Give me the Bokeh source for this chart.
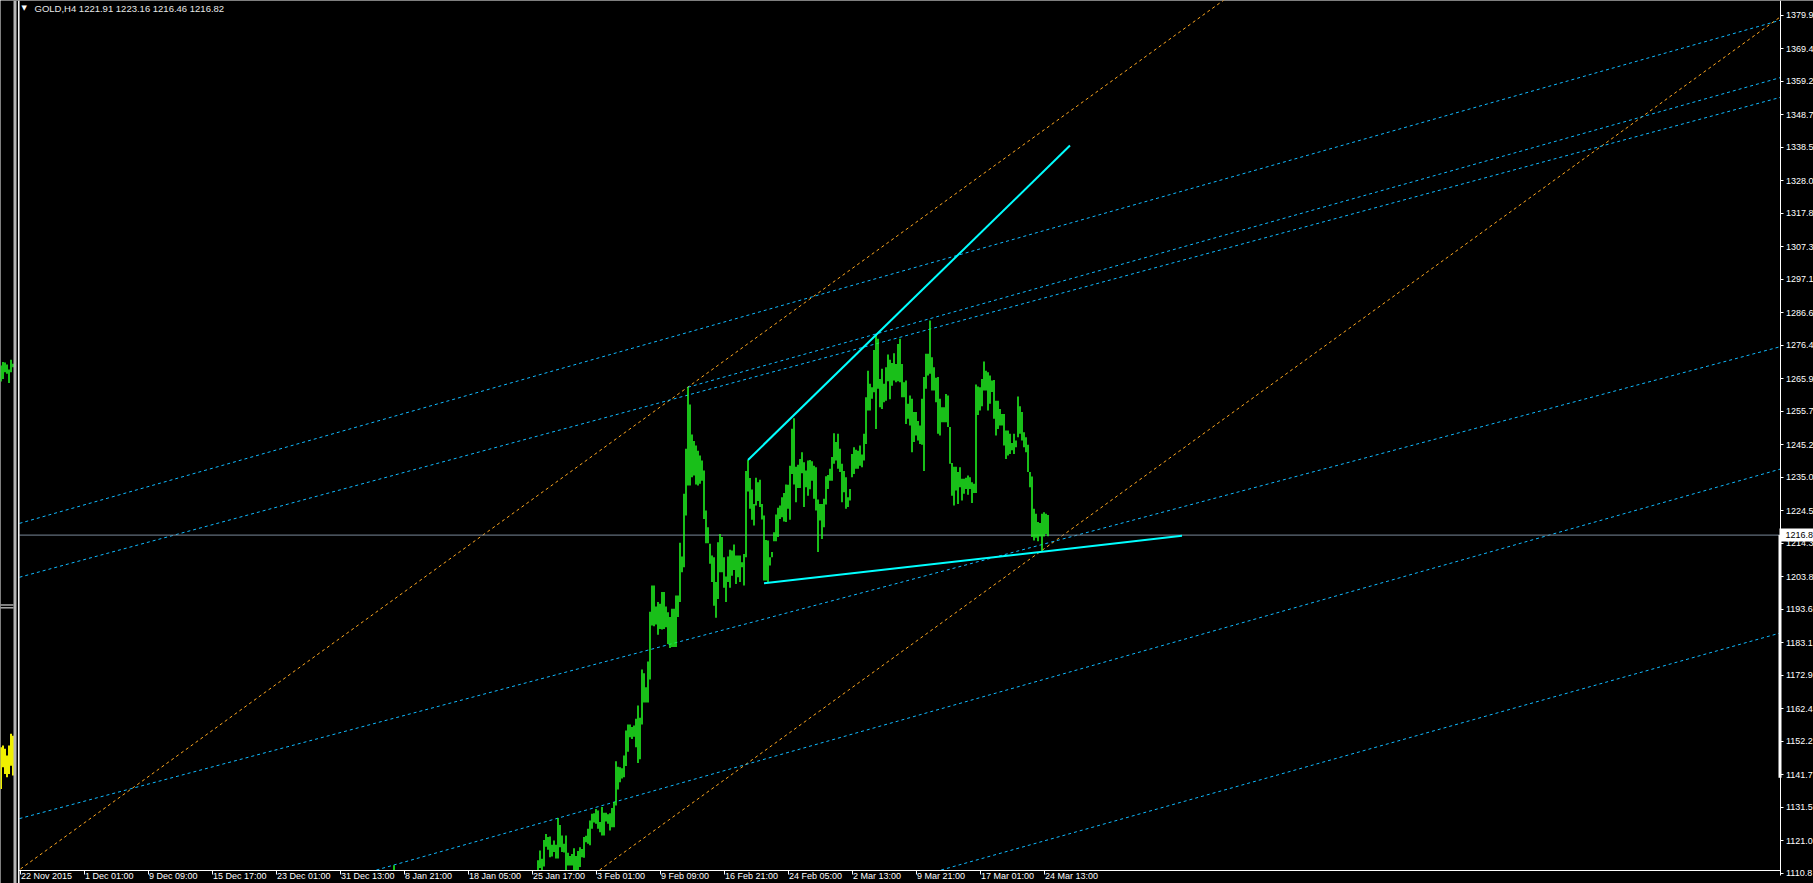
from bokeh.plotting import figure
from bokeh.models import (Range1d, FixedTicker, Label, Span, ColumnDataSource,
                          PrintfTickFormatter, LinearAxis)
from bokeh.embed import file_html
from bokeh.resources import INLINE
from bokeh.core.properties import value

FONT = "Liberation Sans"

symbol = "GOLD,H4"
last_ohlc = [1221.91, 1223.16, 1216.46, 1216.82]

price_ticks = [1110.8, 1121.0, 1131.5, 1141.7, 1152.2, 1162.4, 1172.9, 1183.1, 1193.6,
               1203.8, 1214.3, 1224.5, 1235.0, 1245.2, 1255.7, 1265.9, 1276.4, 1286.6,
               1297.1, 1307.3, 1317.8, 1328.0, 1338.5, 1348.7, 1359.2, 1369.4, 1379.9]

time_tick_bars = [0, 32, 64, 96, 128, 160, 192, 224, 256, 288, 320, 352, 384, 416, 448, 480, 512]
time_tick_labels = ["22 Nov 2015", "1 Dec 01:00", "9 Dec 09:00", "15 Dec 17:00", "23 Dec 01:00",
                    "31 Dec 13:00", "8 Jan 21:00", "18 Jan 05:00", "25 Jan 17:00", "3 Feb 01:00",
                    "9 Feb 09:00", "16 Feb 21:00", "24 Feb 05:00", "2 Mar 13:00", "9 Mar 21:00",
                    "17 Mar 01:00", "24 Mar 13:00"]

# H4 bars (high / low), first index = bar_first
bar_first = 258
bar_high = [
    1111.8, 1114.8, 1117.9, 1115.3, 1121.2, 1123.1, 1122.1, 1122.3, 1119.7, 1121.0,
    1119.7, 1128.1, 1125.9, 1122.6, 1120.0, 1122.6, 1117.2, 1116.2, 1116.8, 1118.6,
    1116.2, 1117.7, 1118.9, 1118.4, 1122.1, 1122.5, 1124.7, 1127.3, 1129.4, 1129.6,
    1130.9, 1130.4, 1126.8, 1131.5, 1129.7, 1129.7, 1129.3, 1129.6, 1131.2, 1133.1,
    1145.9, 1144.2, 1144.0, 1143.7, 1147.7, 1155.5, 1157.4, 1157.4, 1156.6, 1157.1,
    1159.2, 1163.4, 1159.5, 1174.7, 1173.5, 1169.1, 1177.2, 1192.8, 1201.0, 1201.0,
    1194.4, 1195.8, 1195.3, 1199.0, 1199.0, 1194.4, 1192.6, 1191.1, 1193.7, 1193.7,
    1197.9, 1197.9, 1214.4, 1210.1, 1229.8, 1243.9, 1263.2, 1257.8, 1248.4, 1246.3,
    1244.9, 1243.3, 1241.8, 1240.2, 1237.1, 1224.5, 1219.3, 1214.1, 1210.4, 1209.9,
    1202.1, 1214.6, 1217.2, 1216.2, 1209.9, 1203.8, 1210.1, 1212.2, 1212.0, 1213.9,
    1210.4, 1210.4, 1210.4, 1208.3, 1210.9, 1236.9, 1240.4, 1234.7, 1231.1, 1226.6,
    1234.8, 1233.4, 1234.2, 1226.6, 1223.0, 1215.3, 1215.1, 1209.9, 1211.5, 1217.7,
    1223.3, 1225.4, 1226.1, 1228.7, 1230.0, 1232.7, 1232.6, 1238.6, 1250.2, 1253.5,
    1238.3, 1238.9, 1240.7, 1242.8, 1239.7, 1237.1, 1240.2, 1240.4, 1240.0, 1238.6,
    1238.1, 1228.0, 1226.6, 1226.6, 1228.2, 1235.3, 1235.7, 1237.6, 1241.3, 1248.8,
    1246.0, 1248.6, 1243.9, 1239.2, 1236.9, 1235.0, 1228.7, 1231.3, 1242.3, 1244.4,
    1243.6, 1243.3, 1244.9, 1242.1, 1248.6, 1260.1, 1268.4, 1264.3, 1263.2, 1274.9,
    1279.9, 1278.4, 1265.8, 1269.0, 1264.3, 1269.5, 1273.5, 1271.8, 1270.8, 1273.9,
    1270.5, 1276.8, 1278.4, 1270.5, 1264.8, 1265.3, 1258.0, 1260.6, 1259.6, 1255.4,
    1255.4, 1252.6, 1251.2, 1259.6, 1266.4, 1273.7, 1273.7, 1284.1, 1272.6, 1269.5,
    1266.2, 1266.4, 1259.6, 1256.9, 1256.9, 1261.1, 1260.6, 1250.7, 1239.4, 1238.3,
    1238.3, 1236.6, 1238.1, 1234.5, 1234.5, 1234.8, 1235.5, 1235.0, 1233.4, 1232.9,
    1264.1, 1263.4, 1263.2, 1265.8, 1271.3, 1268.4, 1267.9, 1266.9, 1265.3, 1265.5,
    1259.0, 1259.0, 1256.4, 1254.8, 1254.8, 1249.6, 1249.6, 1248.6, 1245.7, 1248.6,
    1246.5, 1260.3, 1257.2, 1255.4, 1249.1, 1247.5, 1245.2, 1236.6, 1235.2, 1225.1,
    1223.5, 1220.9, 1220.6, 1223.5, 1224.0, 1223.5, 1223.16,
]
bar_low = [
    1105.0, 1110.8, 1112.4, 1105.0, 1112.9, 1119.1, 1118.1, 1115.8, 1116.0, 1117.4,
    1115.4, 1115.4, 1118.9, 1117.4, 1117.3, 1111.1, 1113.2, 1113.2, 1113.2, 1105.0,
    1111.4, 1110.8, 1112.7, 1115.8, 1115.6, 1120.5, 1120.0, 1119.5, 1124.7, 1126.7,
    1126.3, 1124.7, 1123.6, 1122.6, 1122.6, 1127.0, 1126.3, 1124.2, 1125.2, 1125.2,
    1132.0, 1137.0, 1139.3, 1140.5, 1140.9, 1144.4, 1148.9, 1153.4, 1152.9, 1153.6,
    1150.3, 1145.3, 1146.5, 1157.4, 1164.3, 1164.3, 1164.3, 1171.5, 1188.5, 1188.2,
    1188.8, 1185.6, 1187.4, 1187.2, 1187.4, 1187.9, 1182.7, 1181.4, 1181.7, 1181.7,
    1181.7, 1191.1, 1195.8, 1205.2, 1206.7, 1223.0, 1232.4, 1232.4, 1235.0, 1235.5,
    1232.7, 1232.4, 1232.9, 1233.9, 1221.9, 1214.3, 1214.3, 1207.8, 1202.1, 1194.7,
    1190.9, 1196.8, 1205.2, 1205.2, 1200.3, 1195.8, 1202.1, 1200.3, 1204.1, 1205.9,
    1201.5, 1203.6, 1202.1, 1206.7, 1201.0, 1209.9, 1230.5, 1225.1, 1221.6, 1219.8,
    1226.1, 1227.5, 1225.6, 1221.7, 1202.6, 1202.6, 1201.8, 1207.3, 1209.9, 1214.9,
    1214.9, 1216.2, 1221.9, 1222.4, 1221.1, 1220.9, 1225.1, 1221.6, 1236.0, 1232.7,
    1227.1, 1231.6, 1231.6, 1236.2, 1225.6, 1231.8, 1229.2, 1231.2, 1233.9, 1228.2,
    1224.5, 1211.5, 1221.4, 1215.6, 1219.3, 1226.4, 1231.3, 1233.9, 1233.9, 1239.2,
    1240.2, 1237.6, 1236.6, 1227.1, 1230.3, 1225.1, 1225.6, 1227.7, 1235.0, 1236.0,
    1237.6, 1237.6, 1238.6, 1238.1, 1240.2, 1245.4, 1255.9, 1255.9, 1259.6, 1261.6,
    1250.1, 1262.7, 1256.9, 1256.4, 1258.5, 1259.0, 1265.1, 1259.4, 1263.7, 1265.3,
    1264.8, 1265.1, 1264.8, 1260.1, 1260.1, 1251.7, 1253.3, 1251.2, 1242.8, 1246.0,
    1248.1, 1246.5, 1245.4, 1245.2, 1236.9, 1262.7, 1266.9, 1267.4, 1262.2, 1262.2,
    1258.5, 1248.6, 1248.1, 1252.2, 1252.2, 1252.2, 1250.7, 1239.2, 1229.2, 1226.1,
    1230.8, 1226.6, 1231.8, 1227.7, 1229.8, 1231.3, 1229.5, 1231.3, 1226.9, 1230.0,
    1230.0, 1254.5, 1255.9, 1257.2, 1262.2, 1262.2, 1255.9, 1258.0, 1261.7, 1253.3,
    1248.1, 1250.1, 1251.2, 1251.2, 1244.9, 1240.7, 1241.8, 1242.3, 1243.4, 1242.3,
    1244.4, 1247.5, 1248.6, 1246.5, 1244.4, 1242.8, 1236.6, 1231.8, 1216.2, 1215.1,
    1216.0, 1214.9, 1216.4, 1211.8, 1216.4, 1217.2, 1216.46,
]
early_bar = [187]
early_high = [1113.3]
early_low = [1098.0]

# neighbouring chart window, visible at the left edge
side_bar = [-9.5, -8.5, -7.5, -6.5, -5.5, -4.5, -3.5]
side_green_high = [1270.0, 1271.1, 1271.0, 1270.3, 1268.8, 1271.8, 1270.6]
side_green_low = [1265.0, 1265.8, 1267.9, 1267.4, 1264.5, 1267.9, 1269.5]
side_yellow_high = [1150.3, 1150.8, 1149.8, 1147.7, 1150.8, 1154.5, 1153.9]
side_yellow_low = [1137.2, 1144.0, 1141.9, 1140.9, 1141.9, 1144.5, 1141.4]
side_sep_price = [1194.9, 1194.0]

# solid trend lines (bar, price) -> (bar, price)
solid_b0 = [364, 372]
solid_p0 = [1240.4, 1201.7]
solid_b1 = [525, 581]
solid_p1 = [1339.0, 1216.6]

# dashed deep-sky-blue channel lines
cyan_b0 = [-0.25, -0.25, 334, -0.25, -0.25, -0.25]
cyan_p0 = [1220.5, 1203.6, 1263.2, 1127.9, 1079.8, 1030.1]
cyan_b1 = [880, 880, 880, 880, 880, 880]
cyan_p1 = [1378.3, 1354.1, 1360.3, 1275.9, 1237.5, 1186.1]

# dotted orange channel lines
orange_b0 = [0.25, -0.25]
orange_p0 = [1112.1, 980.3]
orange_b1 = [880, 880]
orange_p1 = [1510.6, 1379.3]

# chart geometry: bar i at pixel 19.5 + 2 i, 3.188 px per price unit
X_LO, X_HI = -9.75, 896.75
Y_LO, Y_HI = 1107.54, 1384.51
SCALE_X = 880.0          # bar position of the price scale line
TIME_Y = 1111.77         # price level of the time scale line


def clip_lines(b0, p0, b1, p1):
    """Start every line where it rises through the time scale."""
    nb0, np0 = [], []
    for xa, ya, xb, yb in zip(b0, p0, b1, p1):
        if ya < TIME_Y:
            xa = xa + (TIME_Y - ya) * (xb - xa) / (yb - ya)
            ya = TIME_Y
        nb0.append(xa)
        np0.append(ya)
    return nb0, np0, b1, p1


p = figure(width=1813, height=883, x_range=Range1d(X_LO, X_HI), y_range=Range1d(Y_LO, Y_HI),
           output_backend="svg", toolbar_location=None, x_axis_location=None, y_axis_location=None,
           background_fill_color="black", border_fill_color="black",
           min_border_left=0, min_border_top=0, min_border_right=0, min_border_bottom=0)
p.grid.visible = False
p.outline_line_color = None

# price scale
yax = LinearAxis(fixed_location=SCALE_X, bounds=(1110.2, Y_HI))
yax.ticker = FixedTicker(ticks=price_ticks)
yax.formatter = PrintfTickFormatter(format="%.1f")
yax.axis_line_color = "white"
yax.major_tick_line_color = "white"
yax.major_tick_in = 0
yax.major_tick_out = 3
yax.minor_tick_line_color = None
yax.major_label_text_color = "white"
yax.major_label_text_font = FONT
yax.major_label_text_font_size = "9px"
yax.major_label_standoff = 3
p.add_layout(yax, "right")

# time scale: line + tick marks
xax = LinearAxis(fixed_location=TIME_Y, bounds=(-0.75, SCALE_X))
xax.ticker = FixedTicker(ticks=time_tick_bars)
xax.major_label_overrides = {b: "" for b in time_tick_bars}
xax.major_label_text_font_size = "1px"
xax.axis_line_color = "white"
xax.major_tick_line_color = "white"
xax.major_tick_in = 0
xax.major_tick_out = 4
xax.minor_tick_line_color = None
p.add_layout(xax, "below")

# time scale labels, left-aligned at their tick
CHAR_EM = {d: 0.556 for d in "0123456789"}
CHAR_EM.update({" ": 0.278, ":": 0.278, "N": 0.722, "D": 0.722, "J": 0.5, "F": 0.611,
                "M": 0.833, "o": 0.556, "v": 0.5, "e": 0.556, "c": 0.5, "a": 0.556,
                "n": 0.556, "b": 0.556, "r": 0.333})


def text_px(s, size=9):
    return sum(CHAR_EM.get(ch, 0.556) for ch in s) * size


label_pos = [b + (1 + text_px(s) / 2) / 2 for b, s in zip(time_tick_bars, time_tick_labels)]
xlab = LinearAxis(fixed_location=TIME_Y)
xlab.ticker = FixedTicker(ticks=label_pos)
xlab.major_label_overrides = {b: s for b, s in zip(label_pos, time_tick_labels)}
xlab.axis_line_color = None
xlab.major_tick_line_color = None
xlab.minor_tick_line_color = None
xlab.major_tick_out = 0
xlab.major_tick_in = 0
xlab.major_label_standoff = 1
xlab.major_label_text_color = "white"
xlab.major_label_text_font = FONT
xlab.major_label_text_font_size = "9px"
p.add_layout(xlab, "below")

# neighbouring window strip and window border
p.segment(x0=side_bar, y0=side_green_low, x1=side_bar, y1=side_green_high,
          line_color="#22ff22", line_width=1.5)
p.segment(x0=side_bar, y0=side_yellow_low, x1=side_bar, y1=side_yellow_high,
          line_color="#f0f000", line_width=2)
p.segment(x0=[X_LO] * 2, y0=side_sep_price, x1=[-3.25] * 2, y1=side_sep_price,
          line_color="white", line_width=1)
p.add_layout(Span(location=-2.5, dimension="height", line_color="#b4b4b4", line_width=3))
p.add_layout(Span(location=-0.6, dimension="height", line_color="white", line_width=1.5))

# channel lines
ob0, op0, ob1, op1 = clip_lines(orange_b0, orange_p0, orange_b1, orange_p1)
p.segment(x0=ob0, y0=op0, x1=ob1, y1=op1, line_color="#ffa820", line_width=1, line_dash="3 3")
cb0, cp0, cb1, cp1 = clip_lines(cyan_b0, cyan_p0, cyan_b1, cyan_p1)
p.segment(x0=cb0, y0=cp0, x1=cb1, y1=cp1, line_color="#10baff", line_width=1, line_dash="3 3")

# bid line
p.segment(x0=[-0.25], y0=[last_ohlc[3]], x1=[SCALE_X], y1=[last_ohlc[3]],
          line_color="#7a8899", line_width=1)

# bars (drawn down to the time scale at most)
xs = [bar_first + i for i in range(len(bar_high))] + early_bar
his = bar_high + early_high
los = [max(v, TIME_Y) for v in bar_low + early_low]
keep = [i for i in range(len(xs)) if his[i] > TIME_Y]
src = ColumnDataSource(dict(x=[xs[i] for i in keep], hi=[his[i] for i in keep],
                            lo=[los[i] for i in keep]))
p.segment(x0="x", y0="lo", x1="x", y1="hi", source=src, line_color="#22ff22", line_width=1.5)

# solid trend lines
p.segment(x0=solid_b0, y0=solid_p0, x1=solid_b1, y1=solid_p1,
          line_color="#00ffff", line_width=2)

# header text
p.add_layout(Label(x=X_LO, y=Y_HI, x_offset=21, y_offset=-3, text="\u25bc", text_baseline="top",
                   text_color="white", text_font="DejaVu Sans", text_font_size="7px"))
p.add_layout(Label(x=X_LO, y=Y_HI, x_offset=34, y_offset=-2,
                   text=f"{symbol}  " + " ".join(f"{v:.2f}" for v in last_ohlc),
                   text_baseline="top", text_color="#e8e8e8", text_font=FONT, text_font_size="9.5px"))

# current price marker on the scale
box_half = 6.5 / 3.188
r1 = p.quad(left=[SCALE_X - 0.75], right=[SCALE_X + 0.75], bottom=[1140.7], top=[last_ohlc[3]],
            fill_color="white", line_color=None)
r2 = p.quad(left=[SCALE_X - 0.25], right=[X_HI], bottom=[last_ohlc[3] - box_half],
            top=[last_ohlc[3] + box_half], fill_color="white", line_color=None)
r3 = p.text(x=[SCALE_X], y=[last_ohlc[3]], text=[f"{last_ohlc[3]:.1f}"], x_offset=5.5,
            text_baseline="middle", text_color="black", text_font=value(FONT), text_font_size="9px")
for r in (r1, r2, r3):
    r.level = "overlay"

open("out.html", "w").write(file_html(p, INLINE))
